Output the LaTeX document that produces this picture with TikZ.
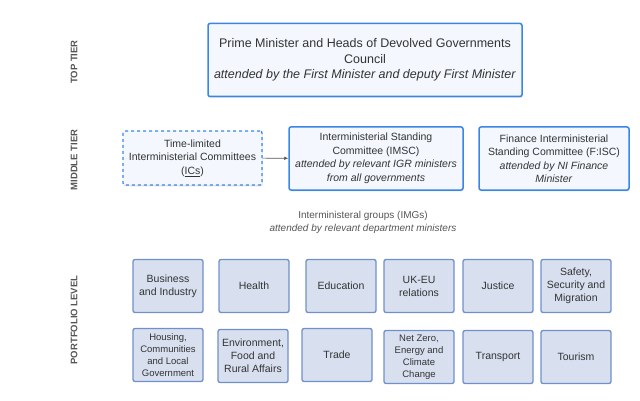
\documentclass[tikz,border=0pt]{standalone}
\usepackage{fontspec}
\setmainfont{Liberation Sans}
\usetikzlibrary{shadows,arrows.meta}

\definecolor{tierblue}{HTML}{3A86E6}
\definecolor{paleblue}{HTML}{F4F8FE}
\definecolor{portfill}{HTML}{D8E0F0}
\definecolor{portedge}{HTML}{6F90C8}
\definecolor{boxtext}{HTML}{333333}
\definecolor{labelgrey}{HTML}{555555}

\tikzset{
    council/.style={draw=tierblue, line width=1.5pt, fill=paleblue, rounded corners=2pt,
        align=center, text=boxtext, inner sep=0pt,
        drop shadow={shadow xshift=0.6pt, shadow yshift=-1.4pt, opacity=0.25}},
    portfolio/.style={draw=portedge, line width=1.3pt, fill=portfill, rounded corners=2pt,
        align=center, text=boxtext, inner sep=0pt, minimum width=70pt, minimum height=53pt},
    tier/.style={rotate=90, text=labelgrey, font=\fontsize{9.5}{11}\bfseries}
}

\begin{document}
\begin{tikzpicture}[x=1pt,y=-1pt]
    \useasboundingbox (0,0) rectangle (640,401);

    % tier labels
    \node[tier] (toptier) at (74,62) {TOP TIER};
    \node[tier] (midtier) at (74,160) {MIDDLE TIER};
    \node[tier] (porttier) at (74,320) {PORTFOLIO LEVEL};

    % top tier
    \node[council, minimum width=314pt, minimum height=73pt,
          font=\fontsize{12.5}{15.5}\selectfont] (council) at (365,60)
        {Prime Minister and Heads of Devolved Governments\\Council\\
         \textit{attended by the First Minister and deputy First Minister}};

    % middle tier
    \node[council, dashed, line width=1.3pt, minimum width=139pt, minimum height=54pt,
          font=\fontsize{10.5}{13.5}\selectfont] (ics) at (192.5,158)
        {Time-limited\\Interministerial Committees\\(\underline{ICs})};
    \node[council, minimum width=174pt, minimum height=63pt,
          font=\fontsize{10.5}{13.5}\selectfont] (imsc) at (376,158.5)
        {Interministerial Standing\\Committee (IMSC)\\
         \textit{attended by relevant IGR ministers}\\\textit{from all governments}};
    \node[council, minimum width=150pt, minimum height=63pt,
          font=\fontsize{10.5}{13.5}\selectfont] (fisc) at (554,158.5)
        {Finance Interministerial\\Standing Committee (F:ISC)\\
         \textit{attended by NI Finance}\\\textit{Minister}};
    \draw[-{Latex[length=4pt,width=3.5pt]}, labelgrey, line width=0.6pt] (ics) -- (imsc);

    \node[align=center, text=labelgrey, font=\fontsize{10}{13}\selectfont] (img) at (363,222.5)
        {Interministeral groups (IMGs)\\\textit{attended by relevant department ministers}};

    % portfolio level
    \foreach \n/\x/\y/\s/\b/\t in {
        bus/168/286/10.5/13/{Business\\and Industry},
        hea/254/286/10.5/13/{Health},
        edu/341/286/10.5/13/{Education},
        ukeu/419/286/10.5/13/{UK-EU\\relations},
        jus/498/286/10.5/13/{Justice},
        saf/576/286/10.5/13/{Safety,\\Security and\\Migration},
        hou/168/355/9.5/12/{Housing,\\Communities\\and Local\\Government},
        env/253/356/10.5/13/{Environment,\\Food and\\Rural Affairs},
        tra/337/355/10.5/13/{Trade},
        net/419/357/9.5/12/{Net Zero,\\Energy and\\Climate\\Change},
        trn/498/357/10.5/13/{Transport},
        tou/576/357/10.5/13/{Tourism}}{
        \node[portfolio, font=\fontsize{\s}{\b}\selectfont] (\n) at (\x,\y) {\t};
    }
\end{tikzpicture}
\end{document}
